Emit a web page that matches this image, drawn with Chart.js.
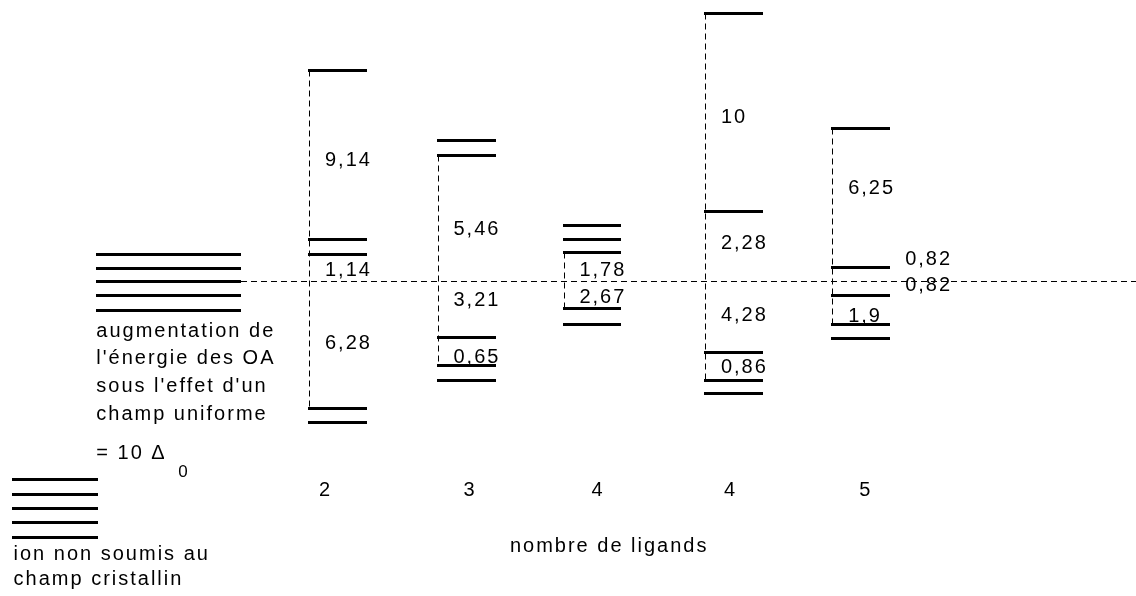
<!DOCTYPE html>
<html>
<head>
<meta charset="utf-8">
<script src="https://cdn.jsdelivr.net/npm/chart.js@4"></script>
<style>
    html, body { margin: 0; padding: 0; background: #fff; }
    #wrap { width: 1136px; height: 596px; }
</style>
</head>
<body>
<div id="wrap"><canvas id="diagram"></canvas></div>
<script>
// nombre de ligands (one column per geometry)
const ligandCounts = ["2", "3", "4", "4", "5"];

// energy of every drawn line, barycentre = 0 (diagram units)
const freeIonLevels = [-9.9, -10.6, -11.3, -12.0, -12.75];
const uniformLevels = [1.4, 0.7, 0, -0.7, -1.4];
const levels2 = [10.6, 2.1, 1.4, -6.3, -7.0];
const levels3 = [7.1, 6.3, -2.75, -4.2, -4.9];
const levels4t = [2.8, 2.1, 1.45, -1.35, -2.1];
const levels4p = [13.4, 3.5, -3.5, -4.9, -5.55];
const levels5 = [7.7, 0.75, -0.7, -2.1, -2.8];

// gaps written next to the levels
const gaps2 = ["9,14", "1,14", "6,28"];
const gaps3 = ["5,46", "3,21", "0,65"];
const gaps4t = ["1,78", "2,67"];
const gaps4p = ["10", "2,28", "4,28", "0,86"];
const gaps5 = ["6,25", "0,82", "0,82", "1,9"];

// where each gap label sits (energy) and on which side of the column
const gapY2 = [6.1, 0.6, -3.05];
const gapY3 = [2.65, -0.9, -3.75];
const gapY4t = [0.6, -0.75];
const gapY4p = [8.25, 1.95, -1.65, -4.25];
const gapY5 = [4.7, 1.15, -0.15, -1.7];
const gapSide5 = ["in", "out", "out", "in"];

// dashed vertical spans: index of the top line and of the bottom line
const spanTop = [0, 1, 2, 0, 0];
const spanBottom = [3, 3, 3, 3, 3];

// layout
const columnSlot = [-0.18, 0.7, 2, 2.99, 3.96, 5.05, 6.03];
const tickShift = [-12, 4, 6, -3, 5];
const ionWidth = 0.662, uniformWidth = 1.117, levelWidth = 0.454;
const FONT = "20px 'Liberation Sans'";

const groups = [
    { levels: levels2, gaps: gaps2, gapY: gapY2 },
    { levels: levels3, gaps: gaps3, gapY: gapY3 },
    { levels: levels4t, gaps: gaps4t, gapY: gapY4t },
    { levels: levels4p, gaps: gaps4p, gapY: gapY4p },
    { levels: levels5, gaps: gaps5, gapY: gapY5, side: gapSide5 }
];

function solid(x0, x1, y) {
    return {
        data: [{ x: x0, y: y }, { x: x1, y: y }],
        borderColor: "#000", borderWidth: 3, borderCapStyle: "butt"
    };
}
function dashed(x0, y0, x1, y1) {
    return {
        data: [{ x: x0, y: y0 }, { x: x1, y: y1 }],
        borderColor: "#000", borderWidth: 1, borderDash: [6, 4]
    };
}

const datasets = [];
freeIonLevels.forEach(e => datasets.push(solid(columnSlot[0] - ionWidth / 2, columnSlot[0] + ionWidth / 2, e)));
uniformLevels.forEach(e => datasets.push(solid(columnSlot[1] - uniformWidth / 2, columnSlot[1] + uniformWidth / 2, e)));

// barycentre line
datasets.push(dashed(columnSlot[1] + uniformWidth / 2, 0, 8.15, 0));

groups.forEach((g, i) => {
    const c = columnSlot[i + 2];
    const left = c - levelWidth / 2;
    g.levels.forEach(e => datasets.push(solid(left, c + levelWidth / 2, e)));
    datasets.push(dashed(left + 0.012, g.levels[spanTop[i]], left + 0.012, g.levels[spanBottom[i]]));
});

// keep the thin and thick strokes on whole pixels so they stay crisp
const snapPlugin = {
    id: "snap",
    beforeDatasetsDraw(chart) {
        chart.data.datasets.forEach((ds, i) => {
            const pts = chart.getDatasetMeta(i).data;
            const vertical = pts.length === 2 && Math.abs(pts[0].x - pts[1].x) < 1;
            pts.forEach(p => {
                p.y = Math.floor(p.y) + 0.5;
                p.x = vertical ? Math.floor(p.x) + 0.5 : Math.round(p.x);
            });
        });
    }
};

const textPlugin = {
    id: "texts",
    afterDatasetsDraw(chart) {
        const ctx = chart.ctx;
        const xs = chart.scales.x, ys = chart.scales.y;
        ctx.save();
        ctx.fillStyle = "#000";
        ctx.font = FONT;
        ctx.letterSpacing = "2px";
        ctx.textBaseline = "middle";
        ctx.textAlign = "left";

        groups.forEach((g, i) => {
            const c = columnSlot[i + 2];
            g.gaps.forEach((t, k) => {
                const out = g.side && g.side[k] === "out";
                const x = out ? c + levelWidth / 2 + 0.115 : c - levelWidth / 2 + 0.13;
                ctx.fillText(t, xs.getPixelForValue(x), ys.getPixelForValue(g.gapY[k]));
            });
        });

        // explanation of the uniform field column
        const lx = xs.getPixelForValue(columnSlot[1] - uniformWidth / 2);
        ["augmentation de", "l'énergie des OA", "sous l'effet d'un", "champ uniforme"]
            .forEach((t, k) => ctx.fillText(t, lx, 331 + k * 27.7));
        ctx.fillText("= 10 Δ", lx, 453);
        ctx.font = "17px 'Liberation Sans'";
        ctx.fillText("0", lx + 82, 472);
        ctx.font = FONT;

        const ix = xs.getPixelForValue(columnSlot[0] - ionWidth / 2);
        ctx.fillText("ion non soumis au", ix + 2, 554);
        ctx.fillText("champ cristallin", ix + 2, 579);

        // x axis: number of ligands
        ctx.textAlign = "center";
        ligandCounts.forEach((t, i) => {
            ctx.fillText(t, xs.getPixelForValue(columnSlot[i + 2]) + tickShift[i], 490);
        });
        const mid = (columnSlot[2] + columnSlot[6]) / 2;
        ctx.fillText("nombre de ligands", xs.getPixelForValue(mid) + 10, 546);
        ctx.restore();
    }
};

new Chart(document.getElementById("diagram"), {
    type: "scatter",
    data: { datasets: datasets },
    options: {
        responsive: true,
        maintainAspectRatio: false,
        animation: false,
        showLine: true,
        clip: false,
        layout: { padding: 0 },
        elements: { point: { radius: 0, hoverRadius: 0 } },
        scales: {
            x: { type: "linear", min: -0.6, max: 8.15, display: false },
            y: { type: "linear", min: -15.7, max: 14.1, display: false }
        },
        plugins: { legend: { display: false }, tooltip: { enabled: false } }
    },
    plugins: [snapPlugin, textPlugin]
});
</script>
</body>
</html>
